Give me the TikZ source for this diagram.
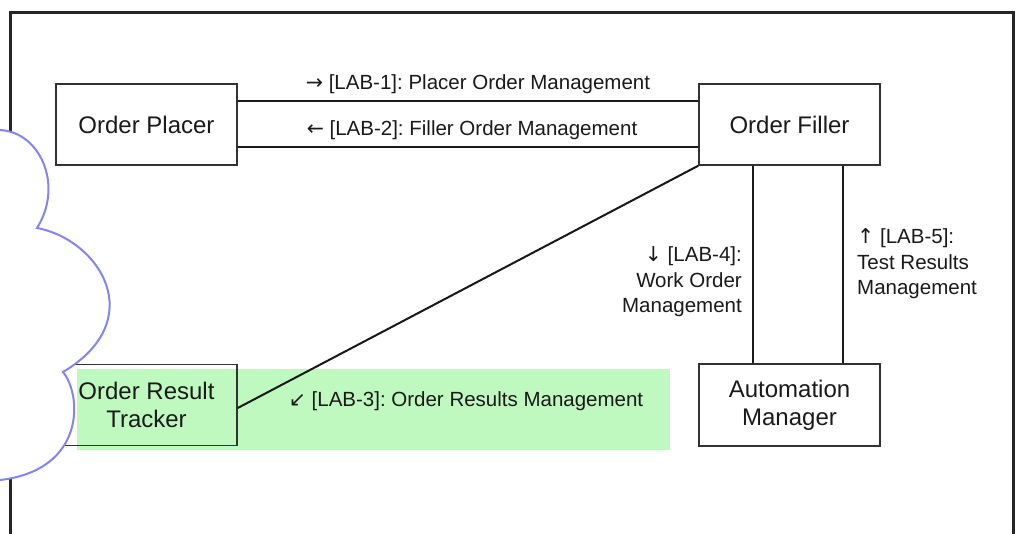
\documentclass[tikz,border=0pt]{standalone}
\usepackage{fontspec}
\setmainfont{Liberation Sans}
\newfontfamily\arrowfont{DejaVu Sans}
\frenchspacing
\definecolor{txt}{HTML}{1A1A1A}
\definecolor{boxline}{HTML}{333333}
\definecolor{cloudblue}{HTML}{8484F4}
\definecolor{hlgreen}{RGB}{192,249,192}
\tikzset{
  comp/.style={draw=boxline, line width=1.4pt, minimum width=181pt, minimum height=81pt,
    inner sep=0pt, align=center, text=txt, font=\fontsize{24}{28}\selectfont},
  conn/.style={draw=black!90, line width=2pt},
  lab/.style={inner sep=0pt, text=txt, font=\fontsize{20.5}{25.5}\selectfont}
}
\begin{document}
\begin{tikzpicture}[x=1pt,y=-1pt]
\useasboundingbox (0,0) rectangle (1019,533);
\clip (0,0) rectangle (1019,533);
\fill[white] (0,0) rectangle (1019,533);
% frame
\draw[line width=3pt, black!85] (10,545) -- (10,12) -- (1013,12) -- (1013,545);
% highlight
\fill[hlgreen] (77,369) rectangle (670,450);
% components
\node[comp, fill=white] (placer) at (146.5,124.5) {Order Placer};
\node[comp, fill=white] (filler) at (789.5,124.5) {Order Filler};
\node[comp] (tracker) at (146.5,405) {Order Result\\Tracker};
\node[comp, fill=white, minimum height=82pt] (auto) at (789.5,405) {Automation\\Manager};
% connectors
\draw[conn] ([yshift=23.5pt]placer.east) -- ([yshift=23.5pt]filler.west);
\draw[conn] ([yshift=-22.5pt]placer.east) -- ([yshift=-22.5pt]filler.west);
\draw[conn] ([yshift=-3pt]tracker.east) -- (filler.south west);
\draw[conn] ([xshift=-36.5pt]filler.south) -- ([xshift=-36.5pt]auto.north);
\draw[conn] ([xshift=53.5pt]filler.south) -- ([xshift=53.5pt]auto.north);
% labels
\node[lab] (l1) at (478,84) {{\arrowfont →} [LAB-1]: Placer Order Management};
\node[lab] (l2) at (472,130) {{\arrowfont ←} [LAB-2]: Filler Order Management};
\node[lab] (l3) at (466,401) {{\arrowfont ↙} [LAB-3]: Order Results Management};
\node[lab, anchor=east, align=right] (l4) at (742,282) {{\arrowfont ↓} [LAB-4]:\\Work Order\\Management};
\node[lab, anchor=west, align=left] (l5) at (857,264) {{\arrowfont ↑} [LAB-5]:\\Test Results\\Management};
% cloud
\fill[white] (-5,130) -- (0,130) .. controls (40,132) and (64,185) .. (37,228)
  .. controls (100,240) and (150,320) .. (63,372)
  .. controls (82,395) and (86,470) .. (0,480) -- (-5,480) -- cycle;
\draw[cloudblue, line width=2pt] (-2,130) -- (0,130) .. controls (40,132) and (64,185) .. (37,228)
  .. controls (100,240) and (150,320) .. (63,372)
  .. controls (82,395) and (86,470) .. (0,480) -- (-2,480);
\end{tikzpicture}
\end{document}
